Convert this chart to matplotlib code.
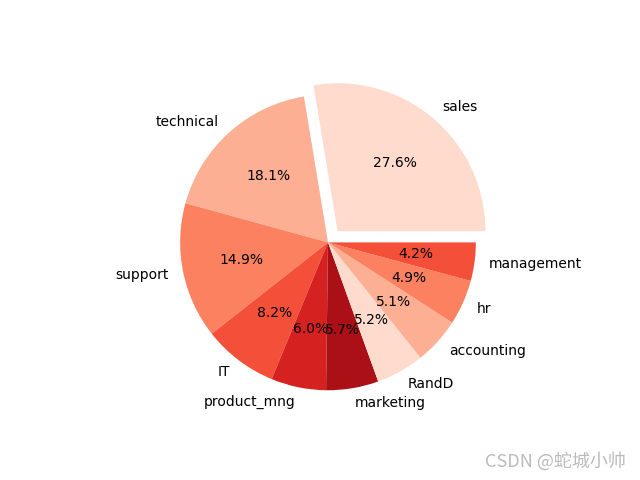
import matplotlib
matplotlib.use('Agg')
import matplotlib.pyplot as plt
import seaborn as sns

departments = ['sales', 'technical', 'support', 'IT', 'product_mng', 'marketing',
               'RandD', 'accounting', 'hr', 'management']
counts = [4140, 2720, 2229, 1227, 902, 858, 787, 767, 739, 630]
explode = [0.1, 0, 0, 0, 0, 0, 0, 0, 0, 0]

colors = sns.color_palette('Reds')
fig = plt.figure(figsize=(6.4, 4.8), dpi=100)
ax = fig.add_subplot(111)
ax.pie(counts, labels=departments, explode=explode, autopct='%1.1f%%', colors=colors)
fig.text(0.978, 0.02, 'CSDN @蛇城小帅', ha='right', va='bottom', fontsize=13,
         color='#bbbbbb', family=['Noto Sans CJK SC', 'DejaVu Sans'])
fig.savefig('out.png')
